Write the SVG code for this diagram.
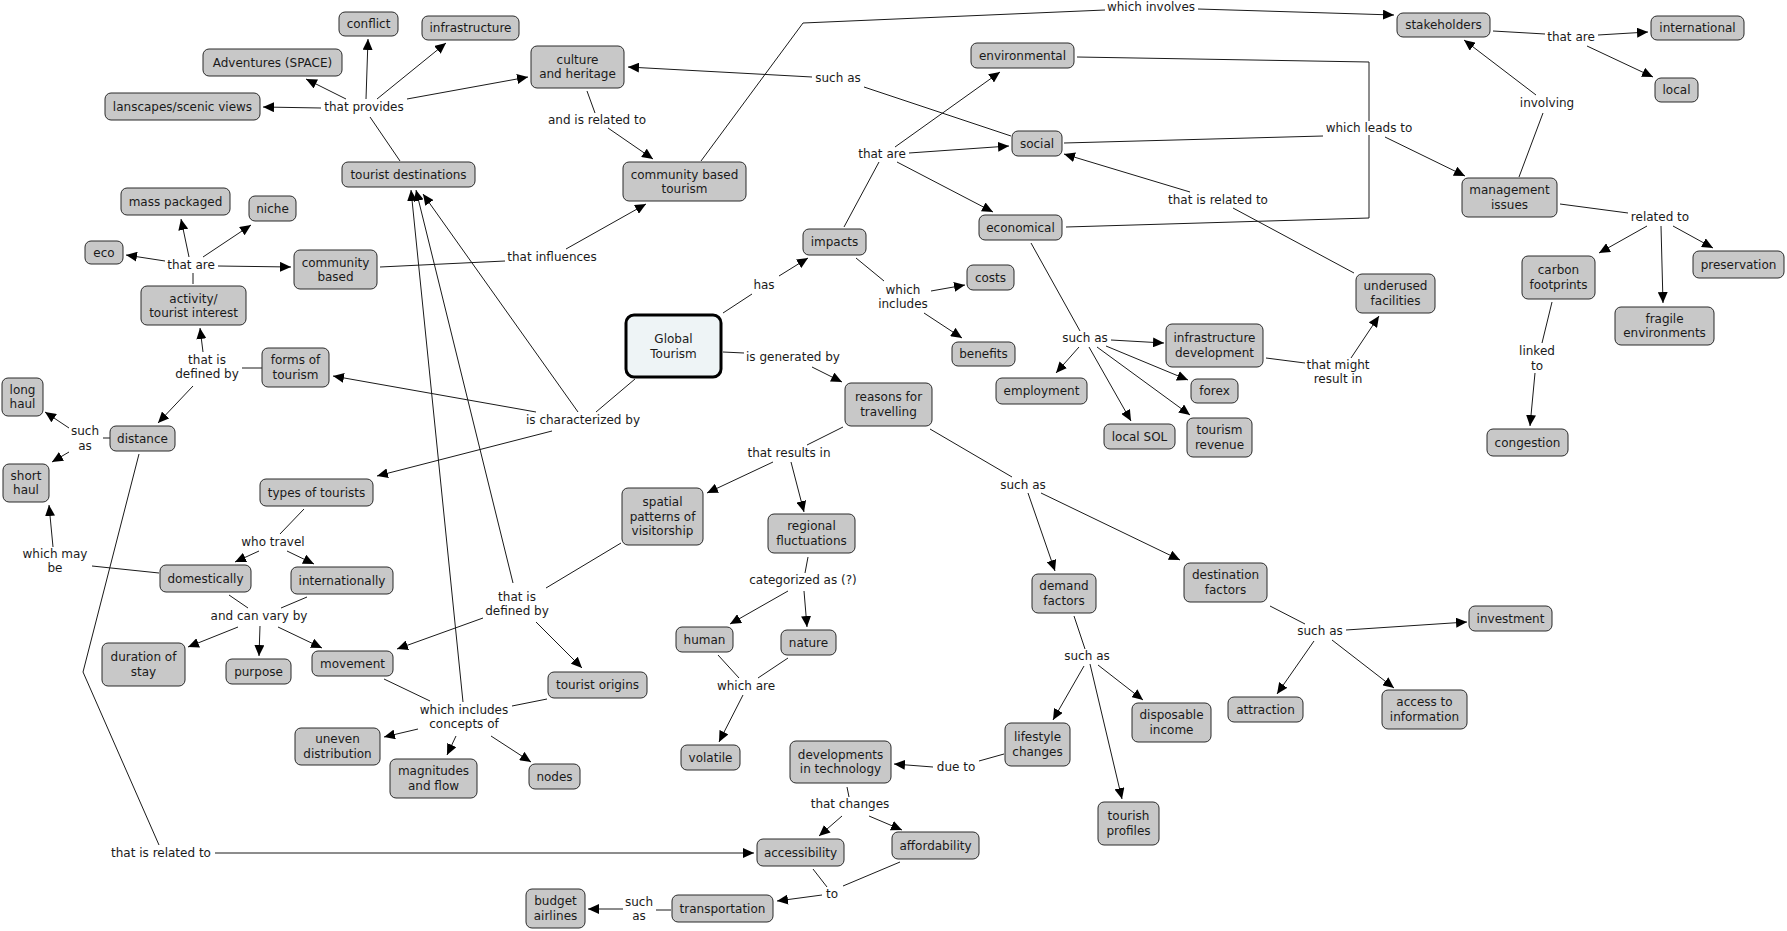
<svg xmlns="http://www.w3.org/2000/svg" width="1787" height="931" viewBox="0 0 1787 931">
<style>
text{font-family:"DejaVu Sans",Verdana,sans-serif;font-size:12px;fill:#1a1a1a;text-anchor:middle}
.n rect{fill:#c8c8c8;stroke:#2a2a2a;stroke-width:1}
.g rect{fill:#eef4f6;stroke:#000;stroke-width:3}
#connectors line,#connectors polyline{stroke:#1a1a1a;stroke-width:1;fill:none}
.a{marker-end:url(#ah)}
</style>
<defs>
<marker id="ah" markerWidth="12" markerHeight="10" refX="11" refY="5" orient="auto" markerUnits="userSpaceOnUse"><path d="M0,0 L11,5 L0,10 z" fill="#000"/></marker>
</defs>
<rect width="1787" height="931" fill="#fff"/>
<g id="connectors">
<line x1="400" y1="161" x2="370" y2="117"/>
<line class="a" x1="321" y1="108" x2="263" y2="107"/>
<line class="a" x1="346" y1="99" x2="306" y2="79"/>
<line class="a" x1="366" y1="99" x2="368" y2="39"/>
<line class="a" x1="377" y1="99" x2="446" y2="43"/>
<line class="a" x1="407" y1="99" x2="528" y2="77"/>
<line x1="193" y1="284" x2="193" y2="273"/>
<line class="a" x1="165" y1="261" x2="126" y2="255"/>
<line class="a" x1="189" y1="257" x2="181" y2="219"/>
<line class="a" x1="203" y1="257" x2="251" y2="225"/>
<line class="a" x1="218" y1="266" x2="291" y2="267"/>
<line x1="380" y1="267" x2="505" y2="261"/>
<line class="a" x1="566" y1="249" x2="646" y2="204"/>
<line x1="587" y1="91" x2="595" y2="113"/>
<line class="a" x1="608" y1="128" x2="653" y2="159"/>
<polyline points="701,161 803,23 1105,10"/>
<line class="a" x1="1198" y1="9" x2="1394" y2="15"/>
<line x1="1011" y1="136" x2="864" y2="87"/>
<line class="a" x1="812" y1="77" x2="628" y2="67"/>
<line x1="844" y1="227" x2="879" y2="162"/>
<line class="a" x1="895" y1="147" x2="1000" y2="72"/>
<line class="a" x1="909" y1="153" x2="1009" y2="146"/>
<line class="a" x1="897" y1="162" x2="993" y2="212"/>
<line x1="856" y1="258" x2="884" y2="281"/>
<line class="a" x1="931" y1="291" x2="965" y2="285"/>
<line class="a" x1="924" y1="313" x2="962" y2="338"/>
<line x1="723" y1="313" x2="752" y2="294"/>
<line class="a" x1="779" y1="276" x2="808" y2="258"/>
<line x1="1354" y1="273" x2="1233" y2="208"/>
<line class="a" x1="1190" y1="192" x2="1064" y2="154"/>
<line x1="1031" y1="243" x2="1080" y2="331"/>
<line class="a" x1="1079" y1="347" x2="1056" y2="373"/>
<line class="a" x1="1111" y1="340" x2="1164" y2="343"/>
<line class="a" x1="1106" y1="346" x2="1188" y2="380"/>
<line class="a" x1="1097" y1="347" x2="1190" y2="415"/>
<line class="a" x1="1089" y1="347" x2="1131" y2="421"/>
<line x1="1266" y1="358" x2="1305" y2="363"/>
<line class="a" x1="1351" y1="358" x2="1379" y2="316"/>
<polyline points="1077,57 1369,62 1369,121"/>
<polyline points="1066,227 1369,218 1369,135"/>
<line x1="1064" y1="143" x2="1323" y2="136"/>
<line class="a" x1="1385" y1="137" x2="1465" y2="176"/>
<line x1="1519" y1="177" x2="1543" y2="113"/>
<line class="a" x1="1536" y1="95" x2="1464" y2="40"/>
<line x1="1493" y1="31" x2="1545" y2="34"/>
<line class="a" x1="1598" y1="35" x2="1648" y2="32"/>
<line class="a" x1="1587" y1="46" x2="1653" y2="77"/>
<line x1="1560" y1="204" x2="1628" y2="213"/>
<line class="a" x1="1647" y1="226" x2="1599" y2="253"/>
<line class="a" x1="1661" y1="226" x2="1663" y2="303"/>
<line class="a" x1="1673" y1="226" x2="1713" y2="248"/>
<line x1="1552" y1="302" x2="1542" y2="343"/>
<line class="a" x1="1535" y1="373" x2="1530" y2="426"/>
<line x1="723" y1="352" x2="744" y2="353"/>
<line class="a" x1="812" y1="367" x2="842" y2="382"/>
<line x1="843" y1="427" x2="807" y2="445"/>
<line class="a" x1="773" y1="462" x2="707" y2="493"/>
<line class="a" x1="791" y1="462" x2="804" y2="512"/>
<line x1="808" y1="557" x2="805" y2="573"/>
<line class="a" x1="788" y1="591" x2="730" y2="624"/>
<line class="a" x1="804" y1="591" x2="807" y2="627"/>
<line x1="718" y1="655" x2="739" y2="678"/>
<line x1="788" y1="658" x2="758" y2="678"/>
<line class="a" x1="743" y1="695" x2="719" y2="742"/>
<line x1="930" y1="429" x2="1012" y2="477"/>
<line class="a" x1="1028" y1="493" x2="1055" y2="571"/>
<line class="a" x1="1041" y1="493" x2="1180" y2="560"/>
<line x1="1270" y1="606" x2="1305" y2="624"/>
<line class="a" x1="1346" y1="630" x2="1467" y2="622"/>
<line class="a" x1="1332" y1="640" x2="1394" y2="688"/>
<line class="a" x1="1314" y1="641" x2="1277" y2="694"/>
<line x1="1074" y1="616" x2="1085" y2="649"/>
<line class="a" x1="1084" y1="666" x2="1053" y2="720"/>
<line class="a" x1="1098" y1="665" x2="1143" y2="700"/>
<line class="a" x1="1090" y1="664" x2="1122" y2="799"/>
<line x1="1004" y1="754" x2="979" y2="761"/>
<line class="a" x1="933" y1="767" x2="894" y2="764"/>
<line x1="847" y1="787" x2="849" y2="797"/>
<line class="a" x1="842" y1="816" x2="819" y2="836"/>
<line class="a" x1="869" y1="816" x2="902" y2="830"/>
<line x1="813" y1="869" x2="827" y2="887"/>
<line x1="900" y1="862" x2="843" y2="886"/>
<line class="a" x1="822" y1="895" x2="777" y2="901"/>
<line x1="671" y1="910" x2="656" y2="910"/>
<line class="a" x1="623" y1="909" x2="588" y2="909"/>
<polyline points="139,454 83,672 159,845"/>
<line class="a" x1="215" y1="853" x2="754" y2="853"/>
<line x1="262" y1="368" x2="242" y2="368"/>
<line class="a" x1="203" y1="352" x2="200" y2="328"/>
<line class="a" x1="193" y1="386" x2="158" y2="423"/>
<line x1="110" y1="438" x2="103" y2="438"/>
<line class="a" x1="69" y1="428" x2="45" y2="412"/>
<line class="a" x1="69" y1="452" x2="52" y2="462"/>
<line x1="159" y1="573" x2="92" y2="566"/>
<line class="a" x1="53" y1="547" x2="49" y2="505"/>
<line x1="304" y1="509" x2="280" y2="534"/>
<line class="a" x1="259" y1="551" x2="235" y2="562"/>
<line class="a" x1="287" y1="551" x2="314" y2="564"/>
<line x1="229" y1="595" x2="248" y2="608"/>
<line x1="307" y1="597" x2="281" y2="608"/>
<line class="a" x1="238" y1="627" x2="188" y2="647"/>
<line class="a" x1="260" y1="626" x2="259" y2="656"/>
<line class="a" x1="278" y1="627" x2="322" y2="648"/>
<line x1="635" y1="379" x2="596" y2="412"/>
<line class="a" x1="536" y1="412" x2="333" y2="376"/>
<line class="a" x1="552" y1="431" x2="377" y2="476"/>
<line class="a" x1="578" y1="412" x2="423" y2="194"/>
<line x1="621" y1="543" x2="546" y2="588"/>
<line class="a" x1="483" y1="618" x2="397" y2="649"/>
<line class="a" x1="536" y1="622" x2="582" y2="668"/>
<line class="a" x1="513" y1="583" x2="416" y2="190"/>
<line x1="384" y1="679" x2="430" y2="701"/>
<line x1="547" y1="699" x2="512" y2="706"/>
<line class="a" x1="418" y1="729" x2="384" y2="737"/>
<line class="a" x1="456" y1="736" x2="447" y2="755"/>
<line class="a" x1="491" y1="736" x2="531" y2="762"/>
<line class="a" x1="463" y1="702" x2="411" y2="190"/>
</g>
<g id="labels">
<text x="364" y="111">that provides</text>
<text x="191" y="269">that are</text>
<text x="552" y="261">that influences</text>
<text x="597" y="124">and is related to</text>
<text x="1151" y="11">which involves</text>
<text x="838" y="82">such as</text>
<text x="882" y="158">that are</text>
<text x="903" y="294">which</text><text x="903" y="308">includes</text>
<text x="764" y="289">has</text>
<text x="1218" y="204">that is related to</text>
<text x="1369" y="132">which leads to</text>
<text x="1571" y="41">that are</text>
<text x="1547" y="107">involving</text>
<text x="1660" y="221">related to</text>
<text x="1537" y="355">linked</text><text x="1537" y="370">to</text>
<text x="1338" y="369">that might</text><text x="1338" y="383">result in</text>
<text x="1085" y="342">such as</text>
<text x="207" y="364">that is</text><text x="207" y="378">defined by</text>
<text x="85" y="435">such</text><text x="85" y="450">as</text>
<text x="273" y="546">who travel</text>
<text x="55" y="558">which may</text><text x="55" y="572">be</text>
<text x="259" y="620">and can vary by</text>
<text x="793" y="361">is generated by</text>
<text x="583" y="424">is characterized by</text>
<text x="789" y="457">that results in</text>
<text x="803" y="584">categorized as (?)</text>
<text x="517" y="601">that is</text><text x="517" y="615">defined by</text>
<text x="1023" y="489">such as</text>
<text x="464" y="714">which includes</text><text x="464" y="728">concepts of</text>
<text x="746" y="690">which are</text>
<text x="850" y="808">that changes</text>
<text x="832" y="898">to</text>
<text x="639" y="906">such</text><text x="639" y="920">as</text>
<text x="161" y="857">that is related to</text>
<text x="1087" y="660">such as</text>
<text x="956" y="771">due to</text>
<text x="1320" y="635">such as</text>
</g>
<g id="n_conflict" class="n"><rect x="339" y="12" width="59" height="24" rx="6"/><text x="368.5" y="28">conflict</text></g>
<g id="n_adventures" class="n"><rect x="203" y="49" width="139" height="27" rx="6"/><text x="272.5" y="66.5">Adventures (SPACE)</text></g>
<g id="n_landscapes" class="n"><rect x="105" y="93" width="155" height="27" rx="6"/><text x="182.5" y="110.5">lanscapes/scenic views</text></g>
<g id="n_infrastructure" class="n"><rect x="422" y="16" width="97" height="24" rx="6"/><text x="470.5" y="32">infrastructure</text></g>
<g id="n_culture" class="n"><rect x="531" y="46" width="93" height="42" rx="6"/><text x="577.5" y="63.5">culture</text><text x="577.5" y="78">and heritage</text></g>
<g id="n_tourist_destinations" class="n"><rect x="342" y="162" width="133" height="25" rx="6"/><text x="408.5" y="178.5">tourist destinations</text></g>
<g id="n_mass" class="n"><rect x="121" y="188" width="109" height="27" rx="6"/><text x="175.5" y="205.5">mass packaged</text></g>
<g id="n_niche" class="n"><rect x="249" y="196" width="47" height="25" rx="6"/><text x="272.5" y="212.5">niche</text></g>
<g id="n_eco" class="n"><rect x="85" y="241" width="38" height="23" rx="6"/><text x="104" y="256.5">eco</text></g>
<g id="n_community" class="n"><rect x="294" y="250" width="83" height="39" rx="6"/><text x="335.5" y="266.5">community</text><text x="335.5" y="281">based</text></g>
<g id="n_activity" class="n"><rect x="141" y="286" width="105" height="39" rx="6"/><text x="193.5" y="302.5">activity/</text><text x="193.5" y="317">tourist interest</text></g>
<g id="n_cbt" class="n"><rect x="623" y="162" width="123" height="39" rx="6"/><text x="684.5" y="178.5">community based</text><text x="684.5" y="193">tourism</text></g>
<g id="n_impacts" class="n"><rect x="803" y="229" width="63" height="26" rx="6"/><text x="834.5" y="246">impacts</text></g>
<g id="n_environmental" class="n"><rect x="971" y="43" width="103" height="25" rx="6"/><text x="1022.5" y="59.5">environmental</text></g>
<g id="n_social" class="n"><rect x="1012" y="131" width="50" height="25" rx="6"/><text x="1037" y="147.5">social</text></g>
<g id="n_economical" class="n"><rect x="979" y="215" width="83" height="25" rx="6"/><text x="1020.5" y="231.5">economical</text></g>
<g id="n_costs" class="n"><rect x="967" y="265" width="47" height="25" rx="6"/><text x="990.5" y="281.5">costs</text></g>
<g id="n_benefits" class="n"><rect x="952" y="342" width="63" height="24" rx="6"/><text x="983.5" y="358">benefits</text></g>
<g id="n_stakeholders" class="n"><rect x="1397" y="13" width="93" height="24" rx="6"/><text x="1443.5" y="29">stakeholders</text></g>
<g id="n_international" class="n"><rect x="1651" y="16" width="93" height="24" rx="6"/><text x="1697.5" y="32">international</text></g>
<g id="n_local" class="n"><rect x="1655" y="78" width="43" height="24" rx="6"/><text x="1676.5" y="94">local</text></g>
<g id="n_management" class="n"><rect x="1462" y="178" width="95" height="39" rx="6"/><text x="1509.5" y="194.25">management</text><text x="1509.5" y="208.75">issues</text></g>
<g id="n_carbon" class="n"><rect x="1522" y="256" width="73" height="43" rx="6"/><text x="1558.5" y="274.25">carbon</text><text x="1558.5" y="288.75">footprints</text></g>
<g id="n_preservation" class="n"><rect x="1693" y="251" width="91" height="27" rx="6"/><text x="1738.5" y="268.5">preservation</text></g>
<g id="n_fragile" class="n"><rect x="1615" y="307" width="99" height="38" rx="6"/><text x="1664.5" y="322.75">fragile</text><text x="1664.5" y="337.25">environments</text></g>
<g id="n_underused" class="n"><rect x="1356" y="274" width="79" height="39" rx="6"/><text x="1395.5" y="290.25">underused</text><text x="1395.5" y="304.75">facilities</text></g>
<g id="n_forms" class="n"><rect x="262" y="348" width="67" height="39" rx="6"/><text x="295.5" y="364.25">forms of</text><text x="295.5" y="378.75">tourism</text></g>
<g id="n_longhaul" class="n"><rect x="2" y="378" width="41" height="38" rx="6"/><text x="22.5" y="393.75">long</text><text x="22.5" y="408.25">haul</text></g>
<g id="n_shorthaul" class="n"><rect x="3" y="464" width="46" height="38" rx="6"/><text x="26" y="479.75">short</text><text x="26" y="494.25">haul</text></g>
<g id="n_distance" class="n"><rect x="110" y="426" width="65" height="25" rx="6"/><text x="142.5" y="442.5">distance</text></g>
<g id="n_types" class="n"><rect x="260" y="479" width="113" height="27" rx="6"/><text x="316.5" y="496.5">types of tourists</text></g>
<g id="n_domestically" class="n"><rect x="160" y="565" width="91" height="27" rx="6"/><text x="205.5" y="582.5">domestically</text></g>
<g id="n_internationally" class="n"><rect x="291" y="567" width="102" height="27" rx="6"/><text x="342" y="584.5">internationally</text></g>
<g id="n_global" class="g"><rect x="626" y="315" width="95" height="62" rx="8"/><text x="673.5" y="343">Global</text><text x="673.5" y="357.5">Tourism</text></g>
<g id="n_reasons" class="n"><rect x="845" y="383" width="87" height="43" rx="6"/><text x="888.5" y="401.25">reasons for</text><text x="888.5" y="415.75">travelling</text></g>
<g id="n_spatial" class="n"><rect x="622" y="488" width="81" height="57" rx="6"/><text x="662.5" y="506">spatial</text><text x="662.5" y="520.5">patterns of</text><text x="662.5" y="535">visitorship</text></g>
<g id="n_regional" class="n"><rect x="768" y="514" width="87" height="39" rx="6"/><text x="811.5" y="530.25">regional</text><text x="811.5" y="544.75">fluctuations</text></g>
<g id="n_infra_dev" class="n"><rect x="1166" y="324" width="97" height="43" rx="6"/><text x="1214.5" y="342.25">infrastructure</text><text x="1214.5" y="356.75">development</text></g>
<g id="n_employment" class="n"><rect x="996" y="378" width="91" height="26" rx="6"/><text x="1041.5" y="395">employment</text></g>
<g id="n_forex" class="n"><rect x="1191" y="379" width="47" height="24" rx="6"/><text x="1214.5" y="395">forex</text></g>
<g id="n_localsol" class="n"><rect x="1104" y="424" width="71" height="25" rx="6"/><text x="1139.5" y="440.5">local SOL</text></g>
<g id="n_revenue" class="n"><rect x="1187" y="418" width="65" height="39" rx="6"/><text x="1219.5" y="434.25">tourism</text><text x="1219.5" y="448.75">revenue</text></g>
<g id="n_demand" class="n"><rect x="1032" y="574" width="64" height="39" rx="6"/><text x="1064" y="590.25">demand</text><text x="1064" y="604.75">factors</text></g>
<g id="n_destination" class="n"><rect x="1184" y="563" width="83" height="39" rx="6"/><text x="1225.5" y="579.25">destination</text><text x="1225.5" y="593.75">factors</text></g>
<g id="n_congestion" class="n"><rect x="1487" y="429" width="81" height="27" rx="6"/><text x="1527.5" y="446.5">congestion</text></g>
<g id="n_investment" class="n"><rect x="1469" y="606" width="83" height="25" rx="6"/><text x="1510.5" y="622.5">investment</text></g>
<g id="n_duration" class="n"><rect x="102" y="643" width="83" height="43" rx="6"/><text x="143.5" y="661.25">duration of</text><text x="143.5" y="675.75">stay</text></g>
<g id="n_purpose" class="n"><rect x="226" y="659" width="65" height="25" rx="6"/><text x="258.5" y="675.5">purpose</text></g>
<g id="n_movement" class="n"><rect x="312" y="651" width="81" height="25" rx="6"/><text x="352.5" y="667.5">movement</text></g>
<g id="n_uneven" class="n"><rect x="295" y="728" width="85" height="37" rx="6"/><text x="337.5" y="743.25">uneven</text><text x="337.5" y="757.75">distribution</text></g>
<g id="n_magnitudes" class="n"><rect x="390" y="759" width="87" height="39" rx="6"/><text x="433.5" y="775.25">magnitudes</text><text x="433.5" y="789.75">and flow</text></g>
<g id="n_origins" class="n"><rect x="548" y="672" width="99" height="26" rx="6"/><text x="597.5" y="689">tourist origins</text></g>
<g id="n_nodes" class="n"><rect x="529" y="764" width="51" height="25" rx="6"/><text x="554.5" y="780.5">nodes</text></g>
<g id="n_human" class="n"><rect x="676" y="627" width="57" height="25" rx="6"/><text x="704.5" y="643.5">human</text></g>
<g id="n_nature" class="n"><rect x="781" y="630" width="55" height="25" rx="6"/><text x="808.5" y="646.5">nature</text></g>
<g id="n_volatile" class="n"><rect x="681" y="745" width="59" height="25" rx="6"/><text x="710.5" y="761.5">volatile</text></g>
<g id="n_devtech" class="n"><rect x="790" y="741" width="101" height="42" rx="6"/><text x="840.5" y="758.75">developments</text><text x="840.5" y="773.25">in technology</text></g>
<g id="n_accessibility" class="n"><rect x="757" y="839" width="87" height="27" rx="6"/><text x="800.5" y="856.5">accessibility</text></g>
<g id="n_transportation" class="n"><rect x="672" y="895" width="101" height="27" rx="6"/><text x="722.5" y="912.5">transportation</text></g>
<g id="n_budget" class="n"><rect x="526" y="889" width="59" height="39" rx="6"/><text x="555.5" y="905.25">budget</text><text x="555.5" y="919.75">airlines</text></g>
<g id="n_lifestyle" class="n"><rect x="1005" y="723" width="65" height="43" rx="6"/><text x="1037.5" y="741.25">lifestyle</text><text x="1037.5" y="755.75">changes</text></g>
<g id="n_disposable" class="n"><rect x="1132" y="703" width="79" height="39" rx="6"/><text x="1171.5" y="719.25">disposable</text><text x="1171.5" y="733.75">income</text></g>
<g id="n_attraction" class="n"><rect x="1228" y="697" width="75" height="25" rx="6"/><text x="1265.5" y="713.5">attraction</text></g>
<g id="n_tourish" class="n"><rect x="1098" y="802" width="61" height="43" rx="6"/><text x="1128.5" y="820.25">tourish</text><text x="1128.5" y="834.75">profiles</text></g>
<g id="n_affordability" class="n"><rect x="892" y="832" width="87" height="27" rx="6"/><text x="935.5" y="849.5">affordability</text></g>
<g id="n_access_info" class="n"><rect x="1382" y="690" width="85" height="39" rx="6"/><text x="1424.5" y="706.25">access to</text><text x="1424.5" y="720.75">information</text></g>
</svg>
